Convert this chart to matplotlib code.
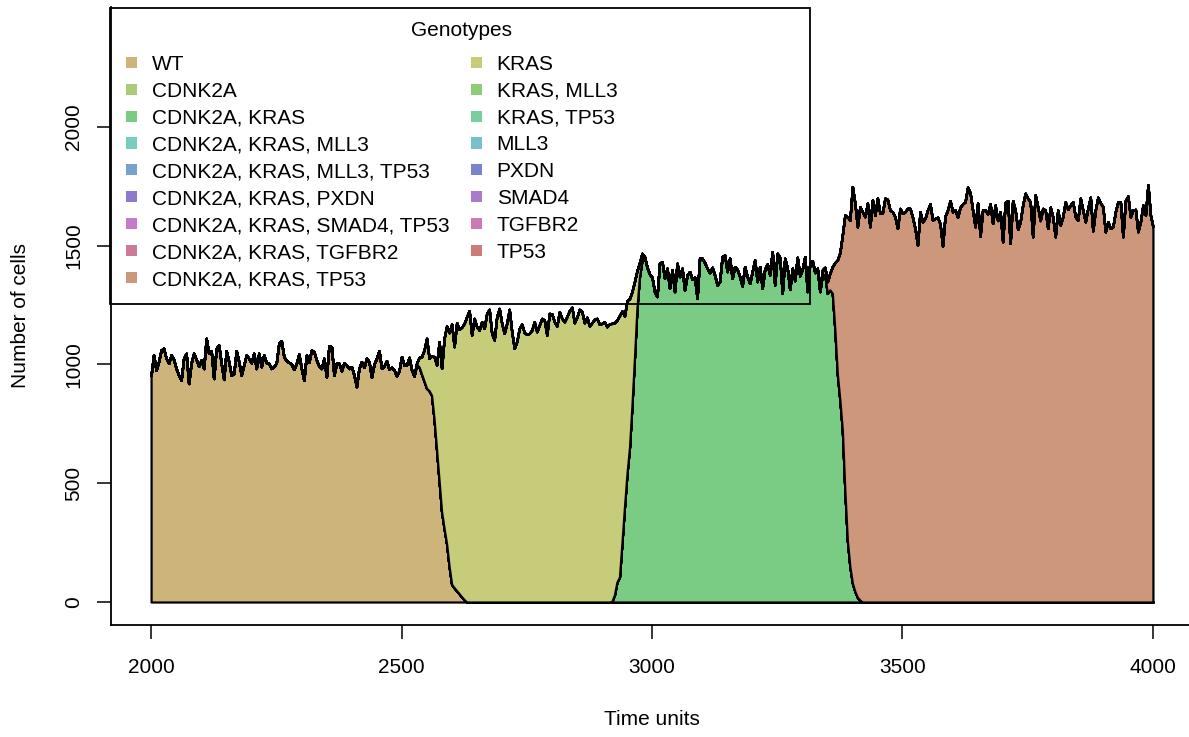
import numpy as np
import matplotlib
matplotlib.use('Agg')
import matplotlib.pyplot as plt
from matplotlib.patches import Rectangle

plt.rcParams['font.family'] = ['Liberation Sans', 'DejaVu Sans']

# sampling grid of the simulation output (time units)
time = np.arange(2000, 4001, 5)

genotypes = ['WT', 'CDNK2A', 'CDNK2A, KRAS', 'CDNK2A, KRAS, MLL3',
             'CDNK2A, KRAS, MLL3, TP53', 'CDNK2A, KRAS, PXDN',
             'CDNK2A, KRAS, SMAD4, TP53', 'CDNK2A, KRAS, TGFBR2',
             'CDNK2A, KRAS, TP53', 'KRAS', 'KRAS, MLL3', 'KRAS, TP53',
             'MLL3', 'PXDN', 'SMAD4', 'TGFBR2', 'TP53']
colors = ['#CCB47A', '#AACC7A', '#7ACC84', '#7ACCBE', '#7AA1CC', '#8E7ACC',
          '#C77ACC', '#CC7A97', '#CC977A', '#C7CC7A', '#8ECC7A', '#7ACCA1',
          '#7ABECC', '#7A84CC', '#AA7ACC', '#CC7AB4', '#CC7A7A']

# cell counts of the clones that show up, one value every 5 time units
# from the given start time (all other genotypes stay at 0)
wt_start = 2000
wt = [955, 1040, 976, 1012, 1061, 1068, 1026, 1005, 1040, 1021,
      983, 955, 934, 1026, 1047, 920, 1007, 1047, 1021, 993,
      1019, 983, 1110, 1047, 1058, 941, 1068, 1082, 1005, 937,
      1058, 1012, 955, 962, 1058, 1012, 955, 998, 1040, 1026,
      1007, 1047, 983, 1047, 991, 1040, 1007, 1005, 983, 991,
      1007, 1089, 1100, 1033, 1016, 1009, 1002, 979, 1005, 1044,
      983, 934, 1040, 1009, 1061, 1054, 1019, 993, 983, 1026,
      948, 1078, 1075, 955, 1005, 1005, 974, 1007, 998, 983,
      991, 956, 907, 984, 1012, 988, 1026, 1012, 946, 1002,
      1026, 1058, 984, 994, 1016, 980, 988, 977, 952, 974,
      1033, 998, 998, 1030, 977, 952,
      1000, 990, 960, 930, 900, 890, 870, 770, 640, 510,
      380, 310, 245, 150, 75, 60, 48, 35, 22, 10, 0]

kras_start = 2530
kras = [5, 40, 73, 131, 210, 136, 166, 263, 358, 586,
        604, 800, 917, 984, 1095, 1015, 1128, 1113, 1135, 1163,
        1201, 1227, 1124, 1194, 1159, 1145, 1180, 1152, 1215, 1232,
        1131, 1103, 1201, 1236, 1173, 1131, 1173, 1232, 1138, 1068,
        1096, 1152, 1170, 1134, 1127, 1131, 1145, 1180, 1138, 1166,
        1194, 1187, 1124, 1215, 1213, 1180, 1162, 1222, 1194, 1180,
        1201, 1227, 1241, 1176, 1199, 1232, 1222, 1176, 1199, 1162,
        1176, 1190, 1194, 1169, 1173, 1180, 1159,
        1171, 1170, 1146, 1102, 1101, 975, 804, 729, 627, 477,
        319, 155, 59, 28, 0]

cdnk2a_kras_start = 2915
cdnk2a_kras = [0, 3, 30, 85, 105, 250, 400, 540, 650, 830,
               1030, 1240, 1370, 1440,
               1454, 1409, 1381, 1367, 1307, 1286, 1426, 1433, 1363, 1405,
               1321, 1398, 1307, 1426, 1370, 1405, 1314, 1377, 1391, 1359,
               1367, 1279, 1447, 1447, 1429, 1405, 1387, 1409, 1377, 1335,
               1349, 1454, 1461, 1391, 1447, 1363, 1412, 1400, 1370, 1331,
               1412, 1370, 1342, 1391, 1440, 1349, 1412, 1321, 1401, 1423,
               1377, 1475, 1335, 1468, 1451, 1300, 1447, 1405, 1316, 1405,
               1353, 1451, 1373, 1401, 1454, 1307, 1426, 1437, 1387, 1405,
               1307,
               1378, 1379, 1299, 1314, 1300, 1149, 960, 851, 724, 470,
               260, 150, 80, 45, 20, 8, 0]

cdnk2a_kras_tp53_start = 3340
cdnk2a_kras_tp53 = [20, 30, 50, 70, 112, 280, 480, 620, 821, 1159,
                    1362, 1458, 1669, 1634, 1560, 1656, 1643,
                    1622, 1679, 1580, 1693, 1629, 1700, 1636, 1639, 1700, 1695,
                    1650, 1643, 1622, 1573, 1657, 1636, 1643, 1657, 1657, 1620,
                    1573, 1503, 1643, 1601, 1615, 1650, 1676, 1608, 1615, 1620,
                    1592, 1499, 1625, 1650, 1690, 1643, 1650, 1620, 1662, 1676,
                    1685, 1746, 1723, 1650, 1580, 1679, 1541, 1650, 1650, 1634,
                    1676, 1594, 1671, 1606, 1643, 1517, 1681, 1690, 1510, 1690,
                    1650, 1569, 1601, 1671, 1721, 1700, 1685, 1538, 1714, 1664,
                    1606, 1657, 1650, 1573, 1662, 1622, 1538, 1650, 1587, 1622,
                    1685, 1653, 1671, 1685, 1622, 1608, 1700, 1650, 1601, 1657,
                    1704, 1563, 1650, 1704, 1681, 1664, 1559, 1601, 1573, 1580,
                    1643, 1685, 1685, 1538, 1690, 1709, 1622, 1650, 1653, 1559,
                    1601, 1671, 1629, 1756, 1629, 1580]


def on_grid(start, values, end):
    # place a clone's counts on the common time grid
    i = int(np.searchsorted(time, start))
    assert i + len(values) - 1 == int(np.searchsorted(time, end)), start
    y = np.zeros(len(time))
    y[i:i + len(values)] = values
    return y


counts = {g: np.zeros(len(time)) for g in genotypes}
counts['WT'] = on_grid(wt_start, wt, 2630)
counts['KRAS'] = on_grid(kras_start, kras, 2985)
counts['CDNK2A, KRAS'] = on_grid(cdnk2a_kras_start, cdnk2a_kras, 3420)
counts['CDNK2A, KRAS, TP53'] = on_grid(cdnk2a_kras_tp53_start, cdnk2a_kras_tp53, 4000)

W, H = 1189, 737
fig = plt.figure(figsize=(W / 100, H / 100), dpi=100)
# plot region in pixels: x 111..1193, y 7..625 (right side runs past the image)
ax = fig.add_axes([111 / W, 1 - 625 / H, (1193 - 111) / W, (625 - 7) / H])

ax.stackplot(time, *[counts[g] for g in genotypes], colors=colors,
             edgecolor='black', linewidth=1.6)

ax.set_xlim(1920, 4080)
ax.set_ylim(-96.8, 2505)
ax.set_xticks([2000, 2500, 3000, 3500, 4000])
ax.set_yticks([0, 500, 1000, 1500, 2000])
ax.tick_params(labelsize=15, length=10, width=1.1)
ax.tick_params(axis='x', pad=14)
ax.tick_params(axis='y', pad=10)
for lab in ax.get_yticklabels():
    lab.set_rotation(90)
    lab.set_va('center')

for side in ['top', 'right']:
    ax.spines[side].set_visible(False)
for side in ['left', 'bottom']:
    ax.spines[side].set_linewidth(1.3)

ax.set_xlabel('Time units', fontsize=15)
ax.set_ylabel('Number of cells', fontsize=15)
ax.xaxis.set_label_coords(0.5, -0.137)
ax.yaxis.set_label_coords((30 - 111) / 1082, 0.5)


# legend box drawn like R's legend(): transparent, on top of the areas
def fx(px):
    return px / W


def fy(py):
    return 1 - py / H


fig.add_artist(Rectangle((fx(110), fy(304)), fx(810) - fx(110), fy(8) - fy(304),
                         transform=fig.transFigure, fill=False,
                         edgecolor='black', linewidth=1.3, zorder=5))
fig.text(fx(461), fy(35.7), 'Genotypes', ha='center', va='baseline', fontsize=15)
for i, (g, c) in enumerate(zip(genotypes, colors)):
    col, row = divmod(i, 9)
    xc = [131.5, 476.3][col]
    yc = 62.3 + row * 26.9
    fig.add_artist(Rectangle((fx(xc - 5.5), fy(yc + 5.5)), fx(11), fy(0) - fy(11),
                             transform=fig.transFigure, facecolor=c,
                             edgecolor='none', zorder=5))
    fig.text(fx(xc + 20.4), fy(yc + 7.5), g, ha='left', va='baseline', fontsize=15)

fig.savefig('out.png', dpi=100)
